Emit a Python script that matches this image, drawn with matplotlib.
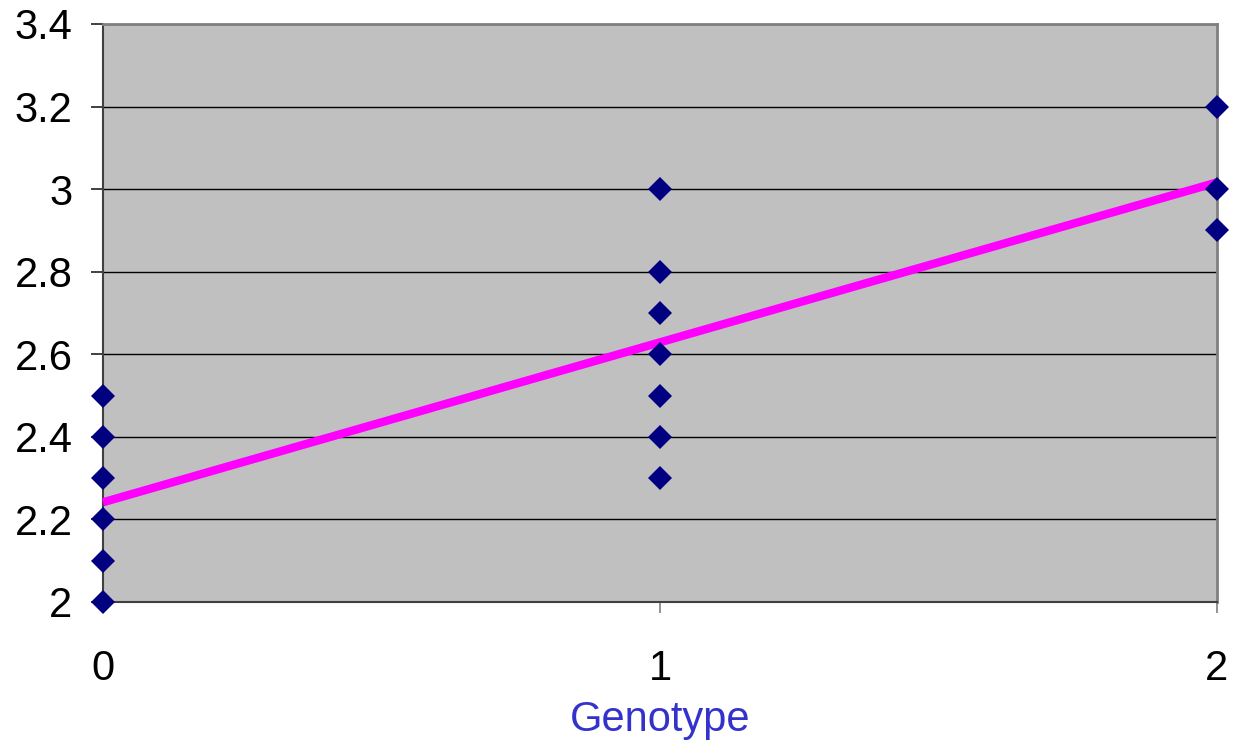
import numpy as np
import matplotlib.pyplot as plt

# genotype groups and measured trait values
genotype = [0, 0, 0, 0, 0, 0, 1, 1, 1, 1, 1, 1, 1, 2, 2, 2]
trait = [2.0, 2.1, 2.2, 2.3, 2.4, 2.5,
         2.3, 2.4, 2.5, 2.6, 2.7, 2.8, 3.0,
         2.9, 3.0, 3.2]
yticks = [2, 2.2, 2.4, 2.6, 2.8, 3, 3.2, 3.4]
ytick_labels = ['2', '2.2', '2.4', '2.6', '2.8', '3', '3.2', '3.4']
xticks = [0, 1, 2]

plt.rcParams['font.family'] = ['Liberation Sans', 'DejaVu Sans']

fig = plt.figure(figsize=(12.36, 7.43), dpi=100)
ax = fig.add_axes([0.0833, 0.1898, 0.9013, 0.7779])
ax.set_facecolor('#C0C0C0')

# linear fit line
slope, intercept = np.polyfit(genotype, trait, 1)
xs = np.array([0, 2])
ax.plot(xs, slope * xs + intercept, color='#FF00FF', lw=6, zorder=3,
        solid_capstyle='butt', clip_on=False)

ax.plot(genotype, trait, 'D', color='#000080', markersize=12, zorder=4,
        clip_on=False, markeredgewidth=0)

ax.set_xlim(0, 2)
ax.set_ylim(2, 3.4)
ax.set_yticks(yticks)
ax.set_yticklabels(ytick_labels)
ax.set_xticks(xticks)
ax.yaxis.grid(True, color='black', lw=1)
ax.set_axisbelow(True)

for s in ['top', 'right']:
    ax.spines[s].set_color('#808080')
    ax.spines[s].set_linewidth(2)
for s in ['left', 'bottom']:
    ax.spines[s].set_color('#404040')
    ax.spines[s].set_linewidth(1.5)

ax.tick_params(axis='y', direction='out', length=9, width=1.2, color='#202020',
               labelsize=30, pad=13)
ax.tick_params(axis='x', direction='out', length=8, width=1.2, color='#808080',
               labelsize=30, pad=26)

ax.set_xlabel('Genotype', fontsize=30, color='#3333CC', labelpad=8)

fig.savefig('out.png', dpi=100)
